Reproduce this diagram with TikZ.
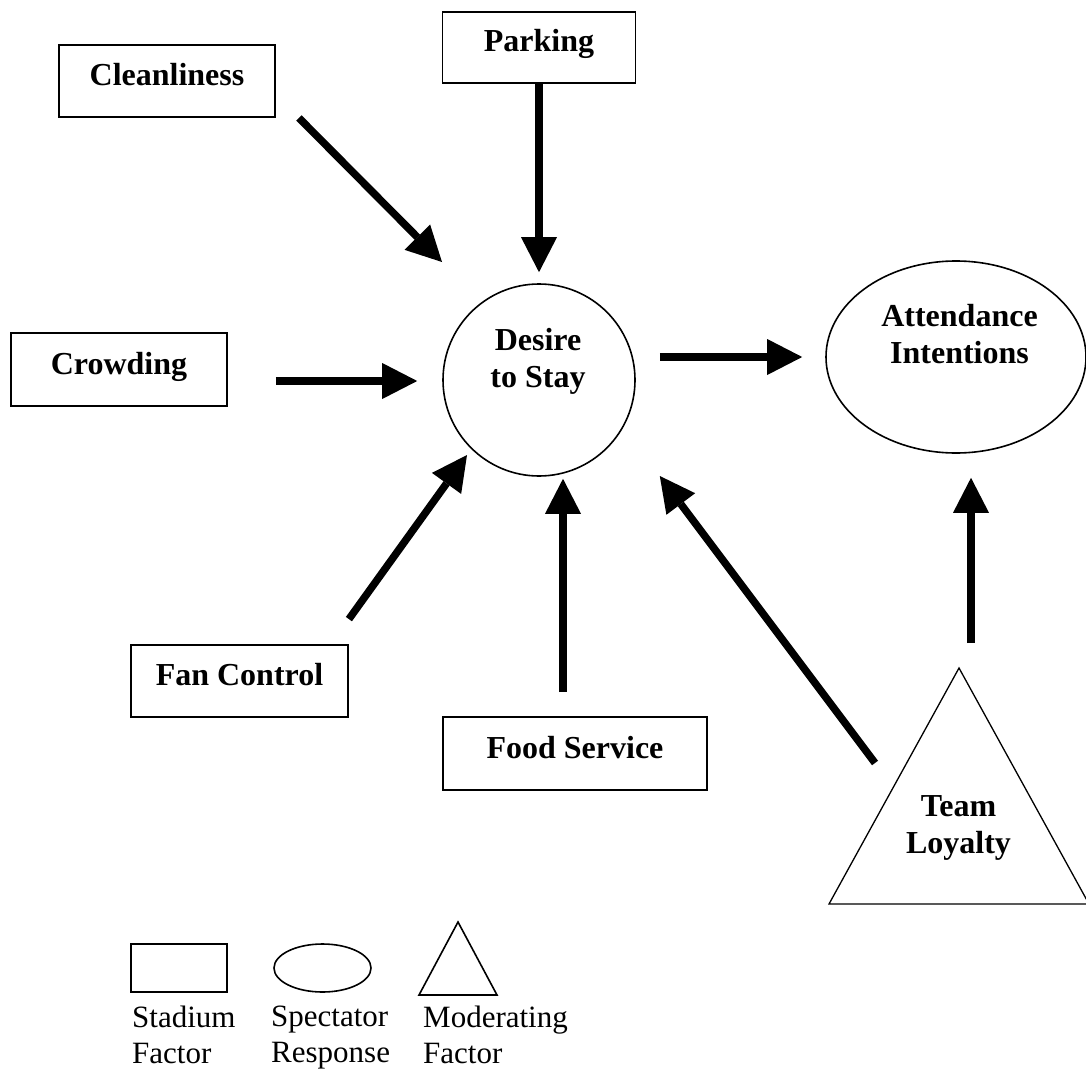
\documentclass[tikz,border=0pt]{standalone}
\usepackage{fontspec}
\setmainfont{Liberation Serif}
\usepackage{tikz}
\usetikzlibrary{arrows.meta, calc, shapes.geometric}

\begin{document}
\begin{tikzpicture}[x=1pt, y=-1pt,
  box/.style={draw, line width=1.8pt, inner sep=0pt, text height=24pt, text depth=15pt,
    font=\bfseries\fontsize{32}{37}\selectfont},
  resp/.style={draw, ellipse, line width=1.6pt, inner sep=0pt},
  modr/.style={draw, line width=1.3pt, line join=miter},
  lbl/.style={align=center, inner sep=0pt, font=\bfseries\fontsize{32}{37}\selectfont},
  key/.style={align=left, inner sep=0pt, anchor=north west, font=\fontsize{31}{36}\selectfont},
  flow/.style={-{Triangle[length=35pt, width=36pt, line width=0pt]}, line width=7.5pt}]
  \useasboundingbox (0,0) rectangle (1086,1070);

  % stadium factors
  \node[box, minimum width=216pt, minimum height=72pt] (clean) at (167,81) {Cleanliness};
  \node[box, minimum width=193pt, minimum height=71pt] (park) at (539,47.5) {Parking};
  \node[box, minimum width=216pt, minimum height=73pt] (crowd) at (119,369.5) {Crowding};
  \node[box, minimum width=217pt, minimum height=72pt] (fan) at (239.5,681) {Fan Control};
  \node[box, minimum width=264pt, minimum height=73pt] (food) at (575,753.5) {Food Service};

  % spectator responses
  \node[resp, minimum width=192pt, minimum height=192pt] (desire) at (539,380) {};
  \node[lbl] (desireTxt) at (538,361) {Desire\\to Stay};
  \node[resp, minimum width=260pt, minimum height=192pt] (attend) at (956,357) {};
  \node[lbl] (attendTxt) at (959.5,334.5) {Attendance\\Intentions};

  % moderating factor
  \coordinate (tl) at (959,668);
  \draw[modr] (tl) -- ++(130,236) -- ++(-260,0) -- cycle;
  \node[lbl] (team) at (958.5,828) {Team\\Loyalty};

  % arrows
  \draw[flow] (park.south) -- ($(desire.north)+(0,-11)$);
  \draw[flow] ($(clean.south east)+(23,0)$) -- ($(desire.center)+(-97,-118)$);
  \draw[flow] ($(crowd.east)+(48,11.5)$) -- ($(desire.west)+(-25,1)$);
  \draw[flow] ($(fan.north east)+(0,-25)$) -- ($(desire.center)+(-72,75)$);
  \draw[flow] ($(food.north)+(-12,-24)$) -- ($(desire.south)+(24,2)$);
  \draw[flow] ($(tl)+(-84,95)$) -- ($(desire.east)+(24,96)$);
  \draw[flow] ($(desire.east)+(24,-23)$) -- ($(attend.west)+(-23,0)$);
  \draw[flow] ($(tl)+(12,-25)$) -- ($(attend.south)+(15,24)$);

  % legend
  \node[box, minimum width=96pt, minimum height=48pt] (kRect) at (179,968) {};
  \node[resp, minimum width=97pt, minimum height=48pt] (kEll) at (322.5,968) {};
  \coordinate (kTop) at (458,922);
  \draw[modr, line width=1.6pt] (kTop) -- ++(39,73) -- ++(-78,0) -- cycle;
  \node[key] (kRectTxt) at (132,1006) {Stadium\\Factor};
  \node[key] (kEllTxt) at (271,1006) {Spectator\\Response};
  \node[key] (kTriTxt) at (423,1006) {Moderating\\Factor};
\end{tikzpicture}
\end{document}
